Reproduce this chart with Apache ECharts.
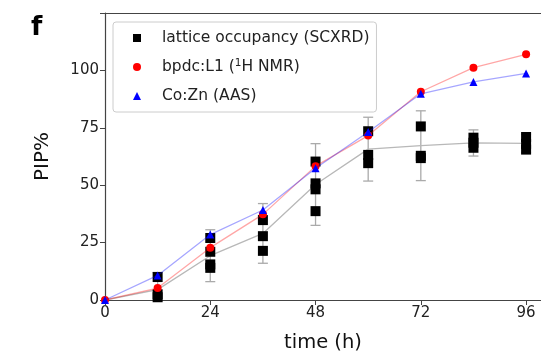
<!DOCTYPE html>
<html>
<head>
<meta charset="utf-8">
<script src="https://cdn.jsdelivr.net/npm/echarts@6/dist/echarts.min.js"></script>
<style>html,body{margin:0;padding:0;background:#fff}#c{width:541px;height:360px}</style>
</head>
<body>
<div id="c"></div>
<script>
const times = [0, 12, 24, 36, 48, 60, 72, 84, 96];
const xTicks = [0, 24, 48, 72, 96];
const yTicks = [0, 25, 50, 75, 100];
// individual lattice occupancy measurements [time, value]
const latticePoints = [
  [12, 1.2], [12, 2.5], [12, 10],
  [24, 27], [24, 21], [24, 15.5], [24, 14],
  [36, 34.8], [36, 27.8], [36, 21.4],
  [48, 60.3], [48, 50.8], [48, 48.2], [48, 38.7],
  [60, 73.5], [60, 63.2], [60, 59.6],
  [72, 75.6], [72, 62.8], [72, 61.8],
  [84, 70.7], [84, 68.5], [84, 66.3],
  [96, 71], [96, 68], [96, 65.5]
];
const latticeMean = [0, 4.5, 19.3, 29, 50.3, 65.7, 67.2, 68.4, 68.2];
const latticeErr = [0, 7.5, 11.3, 13, 17.8, 13.9, 15.2, 5.7, 4];
const bpdcNMR = [0, 5.2, 22.8, 37.3, 58.3, 71.6, 90.7, 101.2, 107];
const coZnAAS = [0, 10.7, 28.5, 39.2, 57.4, 73.2, 89.8, 95, 98.7];
const names = ['lattice occupancy (SCXRD)', 'bpdc:L1 (1H NMR)', 'Co:Zn (AAS)'];

const font = 'DejaVu Sans';
const chart = echarts.init(document.getElementById('c'), null, {renderer: 'canvas'});
const pair = arr => times.map((t, i) => [t, arr[i]]);
const errData = times.map((t, i) => [t, latticeMean[i] - latticeErr[i], latticeMean[i] + latticeErr[i]]).filter((d, i) => latticeErr[i] > 0);

chart.setOption({
  animation: false,
  grid: {left: 105, top: 13, right: -3, bottom: 60},
  title: {text: 'f', left: 26, top: 10, textStyle: {fontFamily: font, fontWeight: 'bold', fontSize: 26, color: '#000'}},
  legend: {
    left: 113, top: 22, orient: 'vertical',
    data: [
      {name: names[0], icon: 'rect'},
      {name: names[1], icon: 'circle'},
      {name: names[2], icon: 'triangle'}
    ],
    itemWidth: 8, itemHeight: 8, itemGap: 11,
    padding: [7, 7, 7, 20],
    backgroundColor: '#fff', borderColor: '#ccc', borderWidth: 1, borderRadius: 3,
    formatter: n => n === names[1] ? '{a|bpdc:L1 (}{s|1}{a|H NMR)}' : '{a|' + n + '}',
    textStyle: {
      fontFamily: font, fontSize: 15.5, color: '#222', padding: [0, 0, 0, 16], lineHeight: 18,
      rich: {
        a: {fontFamily: font, fontSize: 15.5, color: '#222', lineHeight: 18},
        s: {fontFamily: font, fontSize: 10.5, color: '#222', lineHeight: 18, verticalAlign: 'top', padding: [0, 0, 6, 0]}
      }
    }
  },
  xAxis: [{
    type: 'value', min: 0, max: 99.4, interval: 24,
    name: 'time (h)', nameLocation: 'middle', nameGap: 33,
    nameTextStyle: {fontFamily: font, fontSize: 19.5, color: '#111'},
    axisLine: {lineStyle: {color: '#444', width: 1.2}},
    axisTick: {show: true, inside: false, length: 5, lineStyle: {color: '#444'}},
    axisLabel: {fontFamily: font, fontSize: 15, color: '#222', margin: 6, showMaxLabel: false,
      formatter: v => xTicks.includes(v) ? String(v) : ''},
    splitLine: {show: false}
  }, {
    type: 'value', position: 'top', min: 0, max: 99.4,
    axisLine: {show: true, onZero: false, lineStyle: {color: '#444', width: 1.2}},
    axisTick: {show: false}, axisLabel: {show: false}, splitLine: {show: false}
  }],
  yAxis: {
    type: 'value', min: 0, max: 125, interval: 25,
    name: 'PIP%', nameLocation: 'middle', nameGap: 52, nameRotate: 90,
    nameTextStyle: {fontFamily: font, fontSize: 20, color: '#111'},
    axisLine: {show: true, lineStyle: {color: '#444', width: 1.2}},
    axisTick: {show: true, inside: false, length: 5, lineStyle: {color: '#444'}},
    axisLabel: {fontFamily: font, fontSize: 15, color: '#222', margin: 6,
      formatter: v => yTicks.includes(v) ? String(v) : ''},
    splitLine: {show: false}
  },
  series: [
    {
      type: 'line', name: 'mean', data: pair(latticeMean), symbol: 'none',
      lineStyle: {color: '#b8b8b8', width: 1.3}, z: 2, silent: true
    },
    {
      type: 'custom', name: 'err', data: errData, z: 2, clip: true,
      renderItem: (params, api) => {
        const x = api.value(0);
        const lo = api.coord([x, api.value(1)]);
        const hi = api.coord([x, api.value(2)]);
        const w = 5;
        const st = {stroke: '#aaa', lineWidth: 1.3};
        return {type: 'group', children: [
          {type: 'line', shape: {x1: lo[0], y1: lo[1], x2: hi[0], y2: hi[1]}, style: st},
          {type: 'line', shape: {x1: hi[0] - w, y1: hi[1], x2: hi[0] + w, y2: hi[1]}, style: st},
          {type: 'line', shape: {x1: lo[0] - w, y1: lo[1], x2: lo[0] + w, y2: lo[1]}, style: st}
        ]};
      }
    },
    {
      type: 'scatter', name: names[0], data: latticePoints, symbol: 'rect', symbolSize: 10,
      itemStyle: {color: '#000', opacity: 1}, z: 3
    },
    {
      type: 'line', name: names[1], data: pair(bpdcNMR), symbol: 'circle', symbolSize: 8,
      showAllSymbol: true, itemStyle: {color: '#ff0000'},
      lineStyle: {color: 'rgba(255,0,0,0.35)', width: 1.3}, z: 4
    },
    {
      type: 'line', name: names[2], data: pair(coZnAAS), symbol: 'triangle', symbolSize: 8,
      showAllSymbol: true, itemStyle: {color: '#0000ff'},
      lineStyle: {color: 'rgba(0,0,255,0.35)', width: 1.3}, z: 5
    }
  ]
});
</script>
</body>
</html>
